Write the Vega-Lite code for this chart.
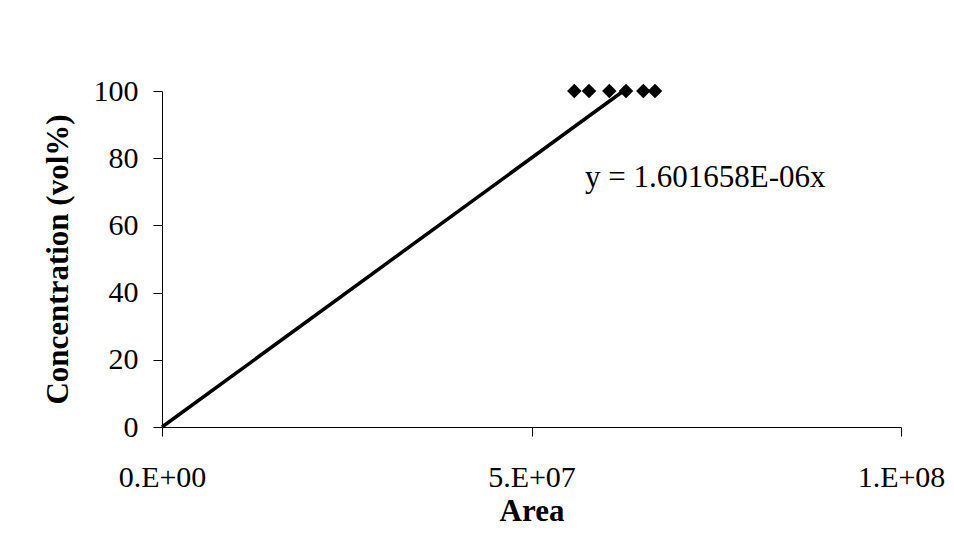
{
  "$schema": "https://vega.github.io/schema/vega-lite/v6.json",
  "autosize": "none",
  "width": 739,
  "height": 336,
  "padding": {"left": 162, "top": 91, "right": 53, "bottom": 114},
  "background": "white",
  "config": {
    "view": {"stroke": null},
    "font": "Liberation Serif",
    "axis": {
      "grid": false,
      "domainColor": "#000000",
      "tickColor": "#000000",
      "domainWidth": 1,
      "tickWidth": 1,
      "tickSize": 9,
      "labelFont": "Liberation Serif",
      "labelFontSize": 30,
      "labelColor": "#000000",
      "titleFont": "Liberation Serif",
      "titleFontSize": 31,
      "titleFontWeight": "bold",
      "titleColor": "#000000"
    }
  },
  "datasets": {
    "points": [
      {"area": 55790000, "conc": 100},
      {"area": 57780000, "conc": 100},
      {"area": 60530000, "conc": 100},
      {"area": 62790000, "conc": 100},
      {"area": 65130000, "conc": 100},
      {"area": 66710000, "conc": 100}
    ],
    "trend": [
      {"area": 0, "conc": 0},
      {"area": 62435300, "conc": 100}
    ],
    "note": [
      {"area": 57240000, "conc": 71.4, "label": "y = 1.601658E-06x"}
    ]
  },
  "encoding": {
    "x": {
      "field": "area",
      "type": "quantitative",
      "title": "Area",
      "scale": {"domain": [0, 100000000], "nice": false, "zero": true},
      "axis": {
        "values": [0, 50000000, 100000000],
        "labelExpr": "datum.value == 0 ? '0.E+00' : (datum.value == 50000000 ? '5.E+07' : '1.E+08')",
        "labelPadding": 26,
        "labelFlush": false,
        "labelOverlap": false,
        "titleBaseline": "alphabetic",
        "titleY": 93
      }
    },
    "y": {
      "field": "conc",
      "type": "quantitative",
      "title": "Concentration (vol%)",
      "scale": {"domain": [0, 100], "nice": false},
      "axis": {
        "values": [0, 20, 40, 60, 80, 100],
        "labelPadding": 15,
        "labelFlush": false,
        "titleBaseline": "alphabetic",
        "titleX": -95
      }
    }
  },
  "layer": [
    {
      "data": {"name": "trend"},
      "mark": {"type": "line", "color": "#000000", "strokeWidth": 3.5, "clip": false}
    },
    {
      "data": {"name": "points"},
      "mark": {"type": "point", "shape": "diamond", "filled": true, "color": "#000000", "opacity": 1, "size": 210}
    },
    {
      "data": {"name": "note"},
      "mark": {"type": "text", "align": "left", "baseline": "alphabetic", "fontSize": 31, "font": "Liberation Serif", "color": "#000000"},
      "encoding": {"text": {"field": "label"}}
    }
  ]
}
